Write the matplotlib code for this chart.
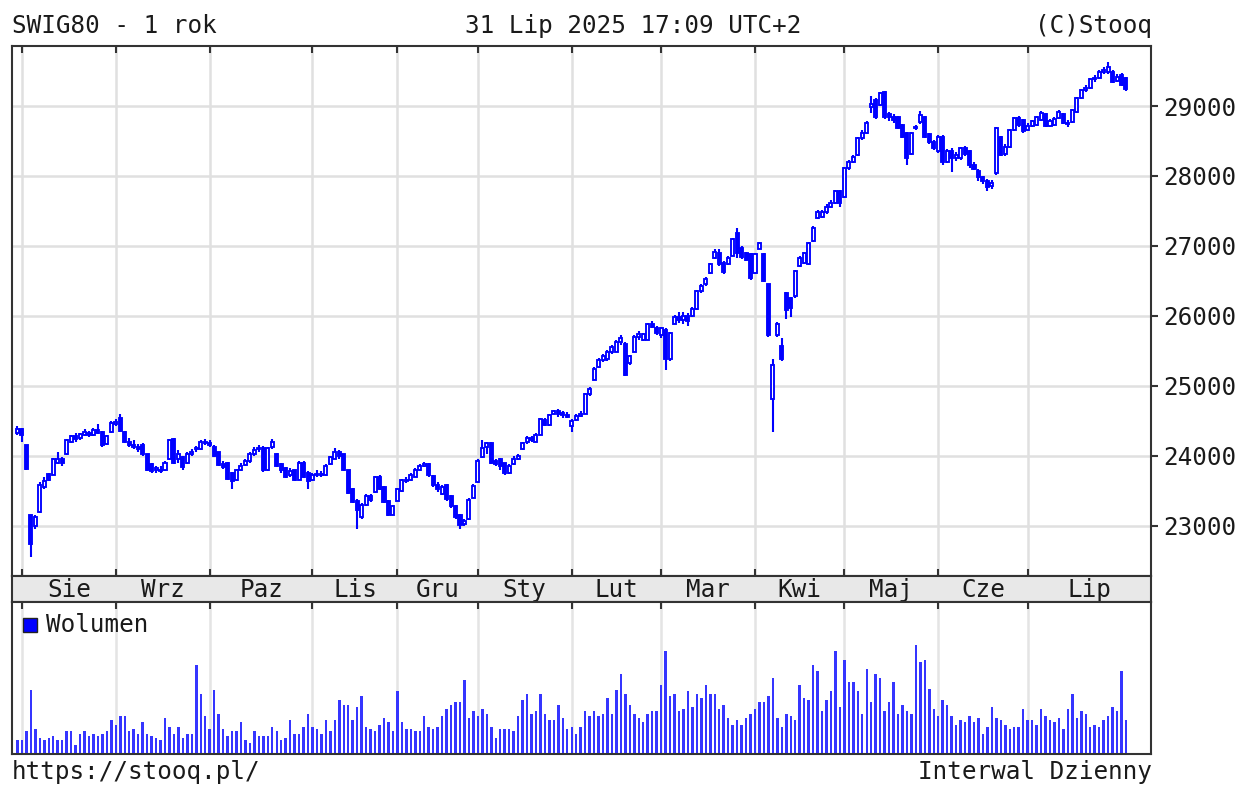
import numpy as np
import matplotlib
matplotlib.use("Agg")
import matplotlib.pyplot as plt
from matplotlib.patches import Rectangle

# ---------------- data (SWIG80 daily, 31 Jul 2024 - 31 Jul 2025) ----------------
opens = [
    24330, 24380, 24150, 23150, 22990, 23200, 23560, 23740, 23730, 23900,
    23960, 24020, 24200, 24280, 24250, 24300, 24330, 24300, 24370, 24340,
    24170, 24340, 24460, 24540, 24340, 24200, 24160, 24120, 24160, 24020,
    23880, 23790, 23800, 23790, 23950, 24240, 23950, 23980, 23900, 24030,
    24090, 24100, 24200, 24180, 24130, 24050, 23880, 23900, 23760, 23650,
    23800, 23870, 23920, 24030, 24090, 24110, 23800, 24120, 24020, 23880,
    23830, 23720, 23790, 23660, 23900, 23760, 23660, 23720, 23740, 23720,
    23880, 23960, 24050, 24020, 23790, 23520, 23360, 23120, 23300, 23420,
    23480, 23690, 23550, 23360, 23160, 23360, 23500, 23650, 23660, 23700,
    23800, 23860, 23880, 23710, 23580, 23460, 23580, 23420, 23280, 23150,
    23020, 23090, 23400, 23620, 23980, 24130, 24180, 23920, 23950, 23890,
    23760, 23880, 23960, 24090, 24190, 24250, 24200, 24300, 24510, 24440,
    24600, 24640, 24610, 24580, 24430, 24510, 24570, 24600, 24880, 25090,
    25270, 25370, 25380, 25480, 25490, 25620, 25600, 25320, 25490, 25700,
    25660, 25660, 25880, 25820, 25720, 25800, 25380, 25890, 25980, 25940,
    26000, 26000, 26100, 26350, 26450, 26610, 26830, 26900, 26760, 26740,
    26860, 27190, 26970, 26900, 26890, 26610, 26960, 26890, 26450, 24810,
    25730, 25570, 26320, 26250, 26280, 26710, 26760, 26740, 27070, 27400,
    27420, 27480, 27560, 27620, 27780, 27700, 28110, 28200, 28300, 28540,
    28610, 28980, 29090, 29020, 29200, 28890, 28840, 28840, 28730, 28610,
    28320, 28680, 28770, 28840, 28600, 28480, 28350, 28560, 28200, 28350,
    28260, 28250, 28400, 28350, 28150, 28070, 27980, 27930, 27850, 28040,
    28550, 28320, 28410, 28650, 28830, 28800, 28660, 28720, 28730, 28800,
    28880, 28720, 28730, 28830, 28880, 28760, 28770, 28910, 29110, 29230,
    29260, 29380, 29400, 29490, 29480, 29490, 29360, 29450, 29400,
]
closes = [
    24380, 24300, 23810, 22740, 23130, 23580, 23640, 23660, 23950, 23960,
    23890, 24220, 24280, 24240, 24310, 24340, 24300, 24370, 24330, 24150,
    24280, 24470, 24480, 24360, 24200, 24160, 24120, 24100, 24020, 23800,
    23780, 23820, 23780, 23900, 24220, 23900, 24020, 23840, 24030, 24060,
    24110, 24200, 24180, 24150, 24000, 23870, 23840, 23670, 23640, 23790,
    23860, 23920, 24030, 24080, 24110, 23790, 24110, 24200, 23860, 23800,
    23700, 23780, 23660, 23900, 23700, 23640, 23720, 23740, 23720, 23860,
    23980, 24060, 23990, 23790, 23470, 23340, 23220, 23300, 23430, 23370,
    23690, 23530, 23340, 23160, 23280, 23520, 23650, 23640, 23720, 23800,
    23860, 23880, 23720, 23580, 23520, 23560, 23380, 23280, 23120, 23010,
    23070, 23370, 23570, 23930, 24110, 24180, 23900, 23880, 23850, 23760,
    23850, 23960, 23990, 24180, 24250, 24220, 24300, 24520, 24440, 24580,
    24640, 24600, 24580, 24560, 24500, 24570, 24600, 24880, 24960, 25240,
    25370, 25420, 25480, 25550, 25630, 25680, 25160, 25420, 25700, 25740,
    25740, 25880, 25840, 25760, 25820, 25380, 25750, 25990, 25940, 26000,
    25920, 26100, 26350, 26420, 26520, 26740, 26920, 26740, 26620, 26830,
    27100, 26900, 26840, 26800, 26540, 26890, 27040, 26500, 25730, 25300,
    25890, 25380, 26090, 26110, 26640, 26830, 26900, 27040, 27260, 27480,
    27480, 27560, 27620, 27780, 27620, 28110, 28200, 28270, 28540, 28610,
    28760, 29030, 28840, 29190, 28840, 28840, 28800, 28690, 28560, 28260,
    28610, 28700, 28870, 28560, 28480, 28400, 28560, 28200, 28350, 28260,
    28300, 28400, 28320, 28150, 28100, 27980, 27930, 27840, 27900, 28680,
    28300, 28420, 28650, 28830, 28730, 28640, 28720, 28780, 28840, 28900,
    28720, 28780, 28820, 28920, 28760, 28740, 28940, 29110, 29230, 29260,
    29380, 29400, 29490, 29520, 29560, 29350, 29420, 29300, 29240,
]
highs = [
    24420, 24400, 24160, 23160, 23160, 23620, 23700, 23760, 23970, 24060,
    23980, 24240, 24300, 24320, 24330, 24380, 24360, 24400, 24450, 24360,
    24300, 24490, 24520, 24600, 24360, 24260, 24220, 24170, 24180, 24030,
    23900, 23860, 23850, 23930, 24240, 24260, 24080, 24000, 24050, 24100,
    24140, 24230, 24240, 24220, 24150, 24060, 23920, 23910, 23770, 23810,
    23900, 23960, 24060, 24120, 24150, 24140, 24130, 24240, 24040, 23900,
    23840, 23820, 23800, 23920, 23920, 23780, 23760, 23790, 23780, 23880,
    24000, 24110, 24080, 24030, 23800, 23540, 23380, 23320, 23450, 23460,
    23710, 23720, 23570, 23370, 23300, 23540, 23670, 23700, 23750, 23820,
    23880, 23910, 23890, 23730, 23620, 23580, 23600, 23440, 23300, 23170,
    23090, 23390, 23590, 23950, 24220, 24200, 24200, 23960, 23970, 23900,
    23880, 24000, 24030, 24200, 24280, 24280, 24320, 24540, 24540, 24600,
    24660, 24670, 24640, 24620, 24520, 24600, 24640, 24900, 24990, 25270,
    25400, 25450, 25510, 25580, 25650, 25720, 25620, 25440, 25720, 25780,
    25760, 25900, 25930, 25850, 25840, 25820, 25770, 26010, 26050, 26060,
    26040, 26120, 26370, 26450, 26550, 26760, 26950, 26960, 26780, 26850,
    27120, 27260, 27000, 26920, 26900, 26900, 27060, 26900, 26460, 25390,
    25910, 25680, 26340, 26270, 26660, 26850, 26920, 27060, 27280, 27520,
    27520, 27600, 27660, 27800, 27800, 28130, 28230, 28300, 28560, 28650,
    28780, 29140, 29110, 29200, 29220, 28920, 28880, 28860, 28750, 28630,
    28630, 28730, 28930, 28860, 28620, 28520, 28580, 28580, 28380, 28400,
    28340, 28420, 28430, 28370, 28200, 28100, 28000, 27950, 27940, 28700,
    28570, 28450, 28670, 28850, 28860, 28820, 28760, 28800, 28860, 28930,
    28900, 28810, 28850, 28950, 28900, 28800, 28960, 29130, 29250, 29300,
    29400, 29440, 29510, 29560, 29630, 29510, 29460, 29470, 29420,
]
lows = [
    24300, 24200, 23790, 22550, 22950, 23180, 23520, 23640, 23720, 23880,
    23860, 24010, 24180, 24200, 24230, 24280, 24270, 24280, 24310, 24120,
    24150, 24330, 24430, 24340, 24180, 24130, 24100, 24060, 24000, 23780,
    23760, 23760, 23750, 23780, 23940, 23880, 23900, 23800, 23880, 24000,
    24050, 24080, 24150, 24120, 23980, 23850, 23810, 23650, 23530, 23640,
    23780, 23850, 23900, 24000, 24060, 23770, 23780, 24090, 23840, 23760,
    23680, 23700, 23640, 23650, 23680, 23530, 23640, 23700, 23700, 23710,
    23870, 23950, 23960, 23780, 23450, 23320, 22950, 23100, 23280, 23340,
    23470, 23510, 23320, 23140, 23150, 23350, 23480, 23610, 23640, 23690,
    23780, 23840, 23700, 23560, 23480, 23440, 23360, 23260, 23090, 22950,
    22990, 23080, 23390, 23610, 23970, 24020, 23880, 23850, 23800, 23730,
    23740, 23870, 23940, 24080, 24170, 24190, 24190, 24290, 24420, 24430,
    24590, 24560, 24540, 24540, 24340, 24490, 24550, 24590, 24860, 25080,
    25250, 25340, 25360, 25450, 25480, 25580, 25140, 25300, 25480, 25660,
    25640, 25650, 25820, 25720, 25690, 25220, 25360, 25880, 25900, 25880,
    25850, 25980, 26080, 26330, 26430, 26600, 26810, 26710, 26600, 26720,
    26850, 26830, 26820, 26780, 26510, 26600, 26950, 26480, 25700, 24340,
    25700, 25360, 25960, 25980, 26260, 26700, 26740, 26720, 27050, 27390,
    27400, 27460, 27540, 27600, 27560, 27680, 28090, 28180, 28280, 28520,
    28600, 28900, 28820, 29000, 28820, 28780, 28760, 28670, 28540, 28150,
    28300, 28650, 28750, 28540, 28450, 28370, 28330, 28150, 28180, 28050,
    28220, 28230, 28280, 28120, 28080, 27930, 27880, 27790, 27820, 28020,
    28280, 28290, 28400, 28640, 28700, 28620, 28640, 28700, 28710, 28780,
    28700, 28700, 28710, 28810, 28740, 28700, 28760, 28900, 29100, 29200,
    29240, 29350, 29380, 29460, 29460, 29330, 29340, 29280, 29220,
]
volumes = [
    13, 13, 22, 63, 24, 15, 13, 15, 17, 13,
    13, 22, 22, 8, 19, 22, 17, 19, 17, 19,
    22, 33, 28, 37, 37, 22, 24, 19, 31, 19,
    17, 15, 13, 35, 26, 19, 26, 15, 19, 19,
    88, 59, 37, 24, 63, 39, 24, 17, 22, 22,
    31, 13, 10, 22, 17, 17, 17, 26, 22, 13,
    15, 33, 19, 19, 26, 39, 26, 24, 19, 33,
    22, 33, 53, 48, 48, 33, 46, 57, 26, 24,
    22, 28, 35, 31, 22, 62, 31, 24, 24, 22,
    22, 37, 26, 24, 26, 37, 44, 48, 51, 51,
    73, 35, 42, 37, 44, 39, 26, 15, 24, 24,
    24, 22, 37, 53, 59, 39, 42, 59, 39, 33,
    33, 48, 35, 24, 26, 19, 26, 42, 37, 42,
    37, 39, 55, 39, 63, 79, 59, 48, 39, 35,
    31, 39, 42, 42, 68, 102, 57, 59, 42, 44,
    62, 46, 59, 55, 68, 59, 59, 44, 48, 35,
    28, 33, 28, 35, 39, 44, 51, 51, 57, 75,
    35, 26, 39, 37, 33, 68, 55, 53, 88, 82,
    42, 53, 62, 102, 46, 93, 71, 71, 62, 39,
    84, 51, 79, 75, 42, 51, 71, 39, 48, 42,
    39, 108, 91, 93, 64, 44, 37, 53, 48, 37,
    28, 33, 31, 37, 31, 35, 19, 26, 46, 35,
    33, 28, 24, 26, 26, 44, 33, 33, 28, 44,
    37, 33, 31, 35, 24, 44, 59, 35, 42, 39,
    26, 28, 26, 33, 37, 46, 42, 82, 33,
]
month_labels = ["Sie", "Wrz", "Paz", "Lis", "Gru", "Sty",
                "Lut", "Mar", "Kwi", "Maj", "Cze", "Lip"]
month_start_idx = [1, 22, 43, 66, 85, 103, 124, 144, 165, 185, 206, 226]
price_ticks = [23000, 24000, 25000, 26000, 27000, 28000, 29000]

# ---------------- styling ----------------
plt.rcParams["font.family"] = ["DejaVu Sans Mono", "DejaVu Sans"]
FS = 17.5
TXT = "#1a1a1a"
BLUE = "#0000ff"
SPINE = "#333333"
GRID = "#e0e0e0"

W, H = 1237, 785
fig = plt.figure(figsize=(W / 100, H / 100), dpi=100)
fig.patch.set_facecolor("white")


def fx(px):
    return px / W


def fy(py):
    return 1 - py / H


L, R = 12, 1151
T, B_PRICE, B_BAND, B_VOL = 46, 576, 602, 754

ax = fig.add_axes([fx(L), fy(B_PRICE), (R - L) / W, (B_PRICE - T) / H])
axb = fig.add_axes([fx(L), fy(B_BAND), (R - L) / W, (B_BAND - B_PRICE) / H])
axv = fig.add_axes([fx(L), fy(B_VOL), (R - L) / W, (B_VOL - B_BAND) / H])

o = np.array(opens, float)
c = np.array(closes, float)
hi = np.array(highs, float)
lo = np.array(lows, float)
v = np.array(volumes, float)
x = np.arange(len(c))
XMIN, XMAX = -1.23, 253.6

# ---- price candles ----
up = c >= o
ax.vlines(x, lo, hi, color=BLUE, lw=1.5, zorder=3)
bot = np.minimum(o, c)
hgt = np.abs(c - o)
ax.bar(x[up], hgt[up], bottom=bot[up], width=0.68, facecolor="white",
       edgecolor=BLUE, lw=1.35, zorder=4)
ax.bar(x[~up], hgt[~up], bottom=bot[~up], width=0.68, facecolor=BLUE,
       edgecolor=BLUE, lw=1.35, zorder=4)

ax.set_xlim(XMIN, XMAX)
ax.set_ylim(22281, 29858)
ax.yaxis.tick_right()
ax.set_yticks(price_ticks)
ax.set_yticklabels([str(t) for t in price_ticks])
ax.tick_params(axis="y", direction="out", length=5, width=1.5, color=SPINE,
               pad=4, labelsize=FS, labelcolor=TXT, right=True, left=False)
ax.set_xticks(month_start_idx)
ax.tick_params(axis="x", direction="in", length=5, width=1.5, color=SPINE,
               top=True, bottom=True, labelbottom=False)
ax.grid(True, color=GRID, lw=1.8)
ax.set_axisbelow(True)
for s in ax.spines.values():
    s.set_color(SPINE)
    s.set_linewidth(1.5)

# ---- month band ----
axb.set_facecolor("#e8e8e8")
axb.set_xlim(XMIN, XMAX)
axb.set_ylim(0, 1)
axb.set_xticks([])
axb.set_yticks([])
for s in axb.spines.values():
    s.set_color(SPINE)
    s.set_linewidth(1.5)
edges = month_start_idx + [XMAX]
for i, lab in enumerate(month_labels):
    mid = (edges[i] + edges[i + 1]) / 2
    axb.text(mid, 0.2, lab, ha="center", va="baseline", fontsize=FS, color=TXT)

# ---- volume ----
axv.bar(x, v, width=0.55, color="#3535ff", lw=0, zorder=3)
axv.set_xlim(XMIN, XMAX)
axv.set_ylim(-1.5, 150.5)
axv.set_yticks([])
axv.set_xticks(month_start_idx)
axv.tick_params(axis="x", direction="in", length=5, width=1.5, color=SPINE,
                top=True, bottom=False, labelbottom=False)
axv.grid(True, axis="x", color="#e4e4e4", lw=1.8)
axv.set_axisbelow(True)
for s in axv.spines.values():
    s.set_color(SPINE)
    s.set_linewidth(1.5)

# legend
fig.patches.append(Rectangle((fx(23), fy(632)), 14 / W, 14 / H,
                             transform=fig.transFigure, facecolor=BLUE,
                             edgecolor="#222222", lw=1.0))
fig.text(fx(46), fy(632), "Wolumen", ha="left", va="baseline",
         fontsize=FS, color=TXT)

# ---- header / footer ----
fig.text(fx(12), fy(33), "SWIG80 - 1 rok", ha="left", va="baseline",
         fontsize=FS, color=TXT)
fig.text(fx(633), fy(33), "31 Lip 2025 17:09 UTC+2", ha="center",
         va="baseline", fontsize=FS, color=TXT)
fig.text(fx(1152), fy(33), "(C)Stooq", ha="right", va="baseline",
         fontsize=FS, color=TXT)
fig.text(fx(12), fy(779), "https://stooq.pl/", ha="left", va="baseline",
         fontsize=FS, color=TXT)
fig.text(fx(1152), fy(779), "Interwal Dzienny", ha="right", va="baseline",
         fontsize=FS, color=TXT)

fig.savefig("out.png", dpi=100, facecolor="white")
